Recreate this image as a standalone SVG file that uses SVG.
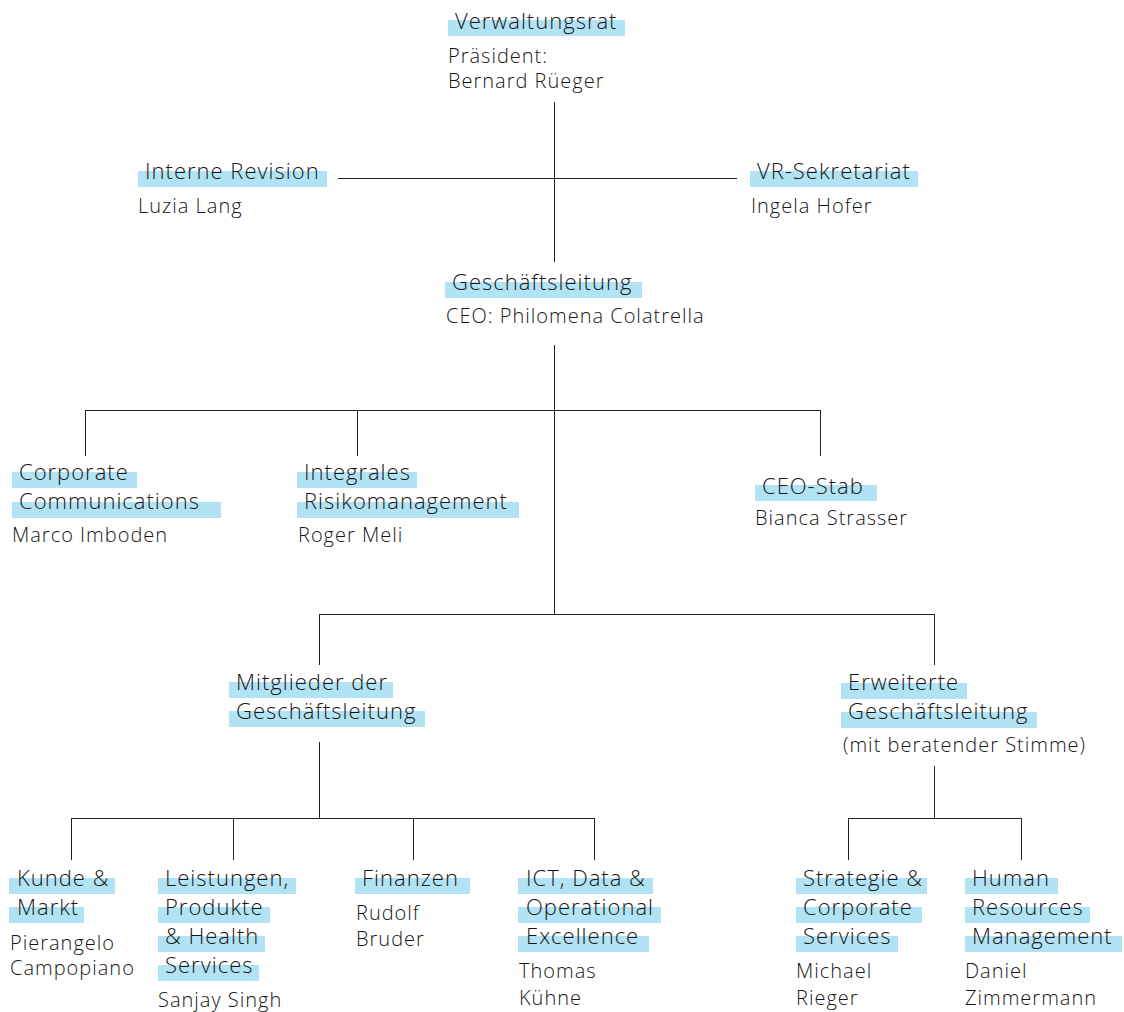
<svg xmlns="http://www.w3.org/2000/svg" width="1124" height="1012" viewBox="0 0 1124 1012">
<style>
.hl{fill:#b2e3f4}
.t{font-family:"Open Sans","Liberation Sans",sans-serif;font-size:22px;letter-spacing:1px;font-weight:300;fill:#161616}
.s{font-family:"Open Sans","Liberation Sans",sans-serif;font-size:20px;letter-spacing:1px;font-weight:300;fill:#161616}
.c{stroke:#222;stroke-width:1;fill:none}
</style>
<rect width="1124" height="1012" fill="#fff"/>
<g id="connectors">
<path class="c" d="M554.5 102V262M338 178.5H737M554.5 345V614M85.5 410.5H820.5M85.5 410V456M357.5 410V456M820.5 410V456M319.5 614.5H934.5M319.5 614V665M934.5 614V665M319.5 742V818M71.5 818.5H594.5M71.5 818V860M233.5 818V860M413.5 818V860M594.5 818V860M934.5 766V818M848.5 818.5H1021.5M848.5 818V860M1021.5 818V860"/>
</g>
<g id="verwaltungsrat">
<rect class="hl" x="448" y="20" width="177" height="16"/>
<text class="t" x="455" y="29">Verwaltungsrat</text>
<text class="s" x="448" y="63">Präsident:</text>
<text class="s" x="448" y="88">Bernard Rüeger</text>
</g>
<g id="interne-revision">
<rect class="hl" x="138" y="171" width="189" height="16"/>
<text class="t" x="145" y="179">Interne Revision</text>
<text class="s" x="138" y="213">Luzia Lang</text>
</g>
<g id="vr-sekretariat">
<rect class="hl" x="750" y="171" width="168" height="16"/>
<text class="t" x="757" y="179">VR-Sekretariat</text>
<text class="s" x="751" y="213">Ingela Hofer</text>
</g>
<g id="geschaeftsleitung">
<rect class="hl" x="445" y="282" width="197" height="16"/>
<text class="t" x="452" y="290">Geschäftsleitung</text>
<text class="s" x="446" y="323">CEO: Philomena Colatrella</text>
</g>
<g id="corporate-communications">
<rect class="hl" x="12" y="472" width="125" height="16"/>
<rect class="hl" x="12" y="502" width="209" height="16"/>
<text class="t" x="19" y="480">Corporate</text>
<text class="t" x="19" y="509">Communications</text>
<text class="s" x="12" y="542">Marco Imboden</text>
</g>
<g id="integrales-risikomanagement">
<rect class="hl" x="297" y="472" width="120" height="16"/>
<rect class="hl" x="297" y="502" width="222" height="16"/>
<text class="t" x="304" y="480">Integrales</text>
<text class="t" x="304" y="509">Risikomanagement</text>
<text class="s" x="298" y="542">Roger Meli</text>
</g>
<g id="ceo-stab">
<rect class="hl" x="755" y="485" width="122" height="16"/>
<text class="t" x="762" y="494">CEO-Stab</text>
<text class="s" x="755" y="525">Bianca Strasser</text>
</g>
<g id="mitglieder">
<rect class="hl" x="229" y="682" width="164" height="16"/>
<rect class="hl" x="229" y="711" width="196" height="16"/>
<text class="t" x="236" y="690">Mitglieder der</text>
<text class="t" x="236" y="719">Geschäftsleitung</text>
</g>
<g id="erweiterte">
<rect class="hl" x="841" y="683" width="126" height="16"/>
<rect class="hl" x="841" y="712" width="196" height="16"/>
<text class="t" x="848" y="690">Erweiterte</text>
<text class="t" x="848" y="719">Geschäftsleitung</text>
<text class="s" x="843" y="752">(mit beratender Stimme)</text>
</g>
<g id="kunde-markt">
<rect class="hl" x="9" y="878" width="106" height="16"/>
<rect class="hl" x="9" y="907" width="75" height="16"/>
<text class="t" x="17" y="886">Kunde &amp;</text>
<text class="t" x="17" y="915">Markt</text>
<text class="s" x="10" y="950">Pierangelo</text>
<text class="s" x="10" y="975">Campopiano</text>
</g>
<g id="leistungen">
<rect class="hl" x="158" y="878" width="138" height="16"/>
<rect class="hl" x="158" y="907" width="112" height="16"/>
<rect class="hl" x="158" y="936" width="107" height="16"/>
<rect class="hl" x="158" y="965" width="101" height="16"/>
<text class="t" x="165" y="886">Leistungen,</text>
<text class="t" x="165" y="915">Produkte</text>
<text class="t" x="165" y="944">&amp; Health</text>
<text class="t" x="165" y="973">Services</text>
<text class="s" x="158" y="1007">Sanjay Singh</text>
</g>
<g id="finanzen">
<rect class="hl" x="355" y="878" width="115" height="16"/>
<text class="t" x="362" y="886">Finanzen</text>
<text class="s" x="356" y="920">Rudolf</text>
<text class="s" x="356" y="946">Bruder</text>
</g>
<g id="ict">
<rect class="hl" x="518" y="878" width="135" height="16"/>
<rect class="hl" x="518" y="907" width="143" height="16"/>
<rect class="hl" x="518" y="936" width="131" height="16"/>
<text class="t" x="526" y="886">ICT, Data &amp;</text>
<text class="t" x="526" y="915">Operational</text>
<text class="t" x="526" y="944">Excellence</text>
<text class="s" x="519" y="978">Thomas</text>
<text class="s" x="519" y="1005">Kühne</text>
</g>
<g id="strategie">
<rect class="hl" x="796" y="878" width="131" height="16"/>
<rect class="hl" x="796" y="907" width="126" height="16"/>
<rect class="hl" x="796" y="936" width="102" height="16"/>
<text class="t" x="803" y="886">Strategie &amp;</text>
<text class="t" x="803" y="915">Corporate</text>
<text class="t" x="803" y="944">Services</text>
<text class="s" x="796" y="978">Michael</text>
<text class="s" x="796" y="1005">Rieger</text>
</g>
<g id="human-resources">
<rect class="hl" x="965" y="878" width="93" height="16"/>
<rect class="hl" x="965" y="907" width="125" height="16"/>
<rect class="hl" x="965" y="936" width="157" height="16"/>
<text class="t" x="972" y="886">Human</text>
<text class="t" x="972" y="915">Resources</text>
<text class="t" x="972" y="944">Management</text>
<text class="s" x="965" y="978">Daniel</text>
<text class="s" x="965" y="1005">Zimmermann</text>
</g>
</svg>
